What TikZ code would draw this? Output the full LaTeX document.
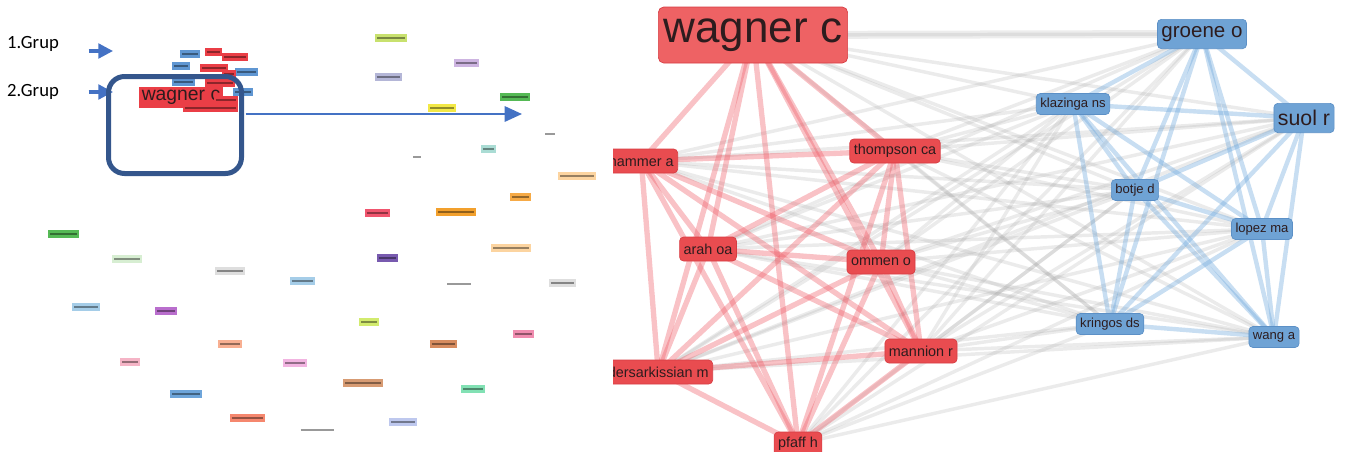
\documentclass[tikz,border=0pt]{standalone}
\usepackage{fontspec}
\setmainfont{Liberation Sans}
\newfontfamily\grupfont{Carlito}
\usetikzlibrary{arrows.meta,backgrounds}
\definecolor{nodered}{RGB}{233,76,80}
\definecolor{noderedline}{RGB}{215,60,66}
\definecolor{wagnerred}{RGB}{238,98,100}
\definecolor{nodeblue}{RGB}{111,163,213}
\definecolor{nodeblueline}{RGB}{92,144,198}
\definecolor{authortext}{RGB}{45,28,30}
\definecolor{edgered}{RGB}{238,95,105}
\definecolor{edgeblue}{RGB}{110,168,220}
\definecolor{edgegray}{RGB}{165,165,165}
\definecolor{arrowblue}{RGB}{68,114,196}
\definecolor{boxblue}{RGB}{52,86,140}
\definecolor{tlime}{RGB}{200,225,110}
\definecolor{tlav}{RGB}{205,180,225}
\definecolor{tgrayblue}{RGB}{180,182,215}
\definecolor{tgreen}{RGB}{85,185,85}
\definecolor{tyellow}{RGB}{242,232,70}
\definecolor{tteal}{RGB}{170,220,212}
\definecolor{tpeach}{RGB}{252,212,160}
\definecolor{torange}{RGB}{246,170,70}
\definecolor{tpink}{RGB}{240,85,110}
\definecolor{torangedeep}{RGB}{242,160,45}
\definecolor{tpurple}{RGB}{120,90,175}
\definecolor{tgray}{RGB}{222,222,222}
\definecolor{tyg}{RGB}{210,235,110}
\definecolor{trose}{RGB}{240,140,175}
\definecolor{tbrown}{RGB}{215,140,95}
\definecolor{tbrownlight}{RGB}{215,155,115}
\definecolor{tmint}{RGB}{130,225,180}
\definecolor{tlblue}{RGB}{190,200,238}
\definecolor{tlgreen}{RGB}{215,238,210}
\definecolor{tsky}{RGB}{165,205,232}
\definecolor{tblue}{RGB}{110,165,218}
\definecolor{tviolet}{RGB}{185,110,205}
\definecolor{tsalmonlight}{RGB}{248,175,145}
\definecolor{tpinklight}{RGB}{245,180,198}
\definecolor{tmagenta}{RGB}{242,180,225}
\definecolor{tsalmon}{RGB}{245,135,110}
\definecolor{minired}{RGB}{234,62,70}
\definecolor{miniblue}{RGB}{95,150,210}

\begin{document}
\begin{tikzpicture}[x=0.75pt,y=-0.75pt,
  author/.style={rounded corners=3pt, inner xsep=3pt, inner ysep=0pt, text=authortext, line width=0.5pt},
  redauthor/.style={author, fill=nodered, draw=noderedline, minimum height=18pt, font=\fontsize{10.8}{12}\selectfont},
  blueauthor/.style={author, fill=nodeblue, draw=nodeblueline, minimum height=15.75pt, font=\fontsize{9.8}{11}\selectfont},
  rededge/.style={draw=edgered, line width=4pt, draw opacity=0.38},
  blueedge/.style={draw=edgeblue, line width=3.3pt, draw opacity=0.38},
  grayedge/.style={draw=edgegray, line width=2.6pt, draw opacity=0.22},
  tag/.style={inner sep=0pt, minimum height=6pt, path picture={\draw[black, draw opacity=0.4, line width=1.3pt] ([xshift=1.5pt]path picture bounding box.west) -- ([xshift=-1.5pt]path picture bounding box.east);}},
  grouparrow/.style={draw=arrowblue, line width=2.4pt, -{Triangle[length=11pt,width=11pt]}},
  zoomarrow/.style={draw=arrowblue, line width=1.6pt, -{Triangle[length=13pt,width=11.5pt]}}]
\useasboundingbox (0,0) rectangle (1348,451);

% left: whole map
\node[font=\grupfont\fontsize{14}{16}\selectfont] (grupone) at (33,44) {1.Grup};
\node[font=\grupfont\fontsize{14}{16}\selectfont] (gruptwo) at (33,92) {2.Grup};
\coordinate (onetip) at (113,51);
\coordinate (twotip) at (113,92);
\draw[grouparrow] (grupone.east |- onetip) ++(25,0) -- (onetip);
\draw[grouparrow] (gruptwo.east |- twotip) ++(25,0) -- (twotip);

\foreach \x/\y/\w/\c [count=\i] in {391/38/32/tlime, 466/63/25/tlav, 388/77/27/tgrayblue, 515/97/30/tgreen,
  442/108/28/tyellow, 550/134/14/white, 488/149/15/tteal, 417/157/12/white, 577/176/38/tpeach,
  520/197/21/torange, 377/213/25/tpink, 456/212/40/torangedeep, 511/248/40/tpeach, 387/258/21/tpurple,
  459/284/28/white, 562/283/27/tgray, 369/322/20/tyg, 523/334/21/trose, 443/344/27/tbrown,
  363/383/40/tbrownlight, 473/389/24/tmint, 403/422/28/tlblue, 317/430/37/white, 63/234/31/tgreen,
  127/259/30/tlgreen, 230/271/30/tgray, 302/281/25/tsky, 86/307/28/tsky, 166/311/22/tviolet,
  230/344/24/tsalmonlight, 130/362/20/tpinklight, 295/363/24/tmagenta, 186/394/32/tblue, 247/418/35/tsalmon}
  \node[tag, fill=\c, minimum width=\w*0.75pt] (tag\i) at (\x,\y) {};

\node[inner xsep=2pt, inner ysep=0pt, minimum height=15.75pt, fill=minired, text=authortext,
  font=\fontsize{14.5}{16}\selectfont] (miniwagner) at (181,97) {wagner c};
\foreach \x/\y/\w/\c [count=\i] in {190/54/20/miniblue, 213/52/17/minired, 235/57/26/minired,
  181/66/18/miniblue, 214/68/28/minired, 246/72/23/miniblue, 229/74/14/minired, 183/82/23/miniblue,
  220/83/30/minired, 243/92/20/miniblue, 226/100/24/minired, 210/108/55/minired}
  \node[tag, fill=\c, minimum width=\w*0.75pt] (mini\i) at (\x,\y) {};

\node[draw=boxblue, line width=3.75pt, rounded corners=12pt, minimum width=99.75pt,
  minimum height=72.75pt, outer sep=0pt] (zoombox) at (175,125) {};
\coordinate (zoomto) at (522,114);
\draw[zoomarrow] (zoombox.east |- zoomto) ++(4,0) -- (zoomto);

% right: zoomed groups
\begin{scope}
\clip (613,0) rectangle (1348,451);
\node[redauthor, fill=wagnerred, minimum height=42pt, inner xsep=4pt, rounded corners=4pt,
  font=\fontsize{33}{36}\selectfont] (wagner) at (753,35) {wagner c};
\node[redauthor, anchor=east] (hammer) at (678,161) {hammer a};
\node[redauthor] (thompson) at (895,151) {thompson ca};
\node[redauthor] (arah) at (708,249) {arah oa};
\node[redauthor] (ommen) at (881,262) {ommen o};
\node[redauthor] (mannion) at (921,351) {mannion r};
\node[redauthor, anchor=east] (dersark) at (713,372) {dersarkissian m};
\node[redauthor] (pfaff) at (798,444) {pfaff h};
\node[blueauthor, minimum height=22pt, font=\fontsize{15.4}{17}\selectfont] (groene) at (1202,34) {groene o};
\node[blueauthor, minimum height=22pt, font=\fontsize{16}{18}\selectfont] (suol) at (1304,118) {suol r};
\node[blueauthor] (klazinga) at (1073,104) {klazinga ns};
\node[blueauthor] (botje) at (1135,190) {botje d};
\node[blueauthor] (lopez) at (1262,229) {lopez ma};
\node[blueauthor] (kringos) at (1110,324) {kringos ds};
\node[blueauthor] (wang) at (1274,337) {wang a};
\end{scope}

\begin{scope}[on background layer]
\foreach \a in {wagner,hammer,thompson,arah,ommen,mannion,dersark,pfaff}
  \foreach \b in {groene,suol,klazinga,botje,lopez,kringos,wang}
    \draw[grayedge] (\a.center) -- (\b.center);
\draw[grayedge, line width=6pt, draw opacity=0.2] (wagner.center) -- (groene.center);
\foreach \a [count=\i] in {wagner,hammer,thompson,arah,ommen,mannion,dersark,pfaff}
  \foreach \b [count=\j] in {wagner,hammer,thompson,arah,ommen,mannion,dersark,pfaff}
    {\ifnum\j>\i \draw[rededge] (\a.center) -- (\b.center); \fi}
\foreach \a [count=\i] in {groene,suol,klazinga,botje,lopez,kringos,wang}
  \foreach \b [count=\j] in {groene,suol,klazinga,botje,lopez,kringos,wang}
    {\ifnum\j>\i \draw[blueedge] (\a.center) -- (\b.center); \fi}
\end{scope}
\end{tikzpicture}
\end{document}
